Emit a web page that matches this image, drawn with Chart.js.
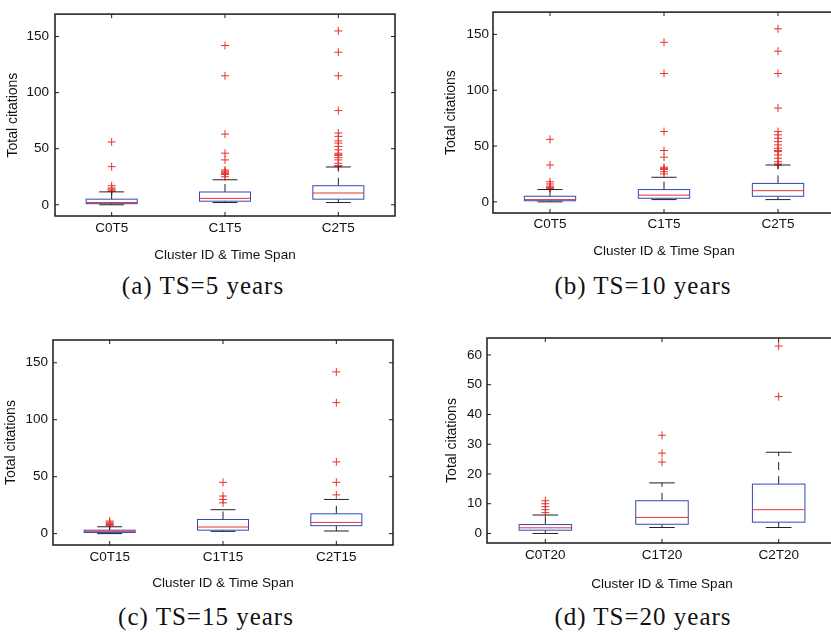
<!DOCTYPE html>
<html>
<head>
<meta charset="utf-8">
<script src="https://cdn.jsdelivr.net/npm/chart.js@4/dist/chart.umd.min.js"></script>
<style>
  html, body { margin: 0; padding: 0; background: #fff; overflow: hidden; width: 831px; height: 633px; }
  .panel { position: absolute; }
  .cap { position: absolute; font-family: "Liberation Serif", serif; font-size: 25px; letter-spacing: 1px;
         color: #111; white-space: nowrap; transform: translate(-50%, -50%); }
</style>
</head>
<body>
<div class="panel" style="left:0;top:0;width:420px;height:270px"><canvas id="ca"></canvas></div>
<div class="panel" style="left:430px;top:0;width:420px;height:270px"><canvas id="cb"></canvas></div>
<div class="panel" style="left:0;top:320px;width:420px;height:280px"><canvas id="cc"></canvas></div>
<div class="panel" style="left:430px;top:320px;width:420px;height:280px"><canvas id="cd"></canvas></div>
<div class="cap" style="left:203px;top:286px">(a) TS=5 years</div>
<div class="cap" style="left:643px;top:286px">(b) TS=10 years</div>
<div class="cap" style="left:206px;top:617px">(c) TS=15 years</div>
<div class="cap" style="left:643px;top:617px">(d) TS=20 years</div>
<script>
'use strict';

// ---- data ----
// (a) TS=5
const catsA = ['C0T5', 'C1T5', 'C2T5'];
const lowA  = [0, 2, 2];
const q1A   = [1, 3.2, 5];
const medA  = [2, 5.7, 10.5];
const q3A   = [5, 11.4, 17];
const highA = [11.5, 22.3, 33.7];
const outA  = [
  [12, 13, 14, 15, 17, 34, 56],
  [25, 27, 28, 29, 30, 31, 40, 46, 63, 115, 142],
  [34, 35, 37, 40, 42, 44, 45, 46, 49, 52, 55, 57, 61, 64, 84, 115, 136, 155]
];
// (b) TS=10
const catsB = ['C0T5', 'C1T5', 'C2T5'];
const lowB  = [0, 2, 2];
const q1B   = [1, 3.2, 5];
const medB  = [2, 6, 10];
const q3B   = [5, 11, 16.5];
const highB = [11, 22, 33];
const outB  = [
  [12, 13, 14, 16, 18, 33, 56],
  [25, 27, 29, 30, 31, 40, 46, 63, 115, 143],
  [33, 34, 36, 39, 42, 45, 46, 48, 51, 54, 57, 60, 63, 84, 115, 135, 155]
];
// (c) TS=15
const catsC = ['C0T15', 'C1T15', 'C2T15'];
const lowC  = [0, 2, 2.3];
const q1C   = [1, 3, 7];
const medC  = [2, 5.8, 9.8];
const q3C   = [3, 12.4, 17.4];
const highC = [6, 21, 30];
const outC  = [
  [7, 8, 9, 10, 11],
  [27, 30, 33, 45],
  [34, 45, 63, 115, 142]
];
// (d) TS=20
const catsD = ['C0T20', 'C1T20', 'C2T20'];
const lowD  = [0, 2, 2];
const q1D   = [1.1, 3.1, 3.8];
const medD  = [1.9, 5.4, 8];
const q3D   = [3, 11, 16.6];
const highD = [6.2, 17, 27.3];
const outD  = [
  [7, 8, 9, 10, 11],
  [24, 27, 33],
  [46, 63]
];

const ticksBig   = [0, 50, 100, 150];
const ticksSmall = [0, 10, 20, 30, 40, 50, 60];

const BLUE = '#3448b8', RED = '#e5352f', INK = '#222';
const BOX_W = 0.45, CAP_W = 0.22;

function seg(ctx, x1, y1, x2, y2) {
  ctx.beginPath(); ctx.moveTo(x1, y1); ctx.lineTo(x2, y2); ctx.stroke();
}

function boxPlugin(p) {
  return {
    id: 'boxes',
    afterDatasetsDraw(chart) {
      const { ctx } = chart;
      const x = chart.scales.x, y = chart.scales.y;
      ctx.save();
      ctx.lineWidth = 1;
      p.med.forEach((m, i) => {
        const c = x.getPixelForValue(i + 1);
        const half = x.getPixelForValue(i + 1 + BOX_W / 2) - c;
        const cap = x.getPixelForValue(i + 1 + CAP_W / 2) - c;
        const yLo = y.getPixelForValue(p.low[i]), yHi = y.getPixelForValue(p.high[i]);
        const y1 = y.getPixelForValue(p.q1[i]), y3 = y.getPixelForValue(p.q3[i]);
        const yM = y.getPixelForValue(m);
        ctx.strokeStyle = INK;
        ctx.setLineDash([8, 6]);
        seg(ctx, c, y3, c, yHi);
        seg(ctx, c, y1, c, yLo);
        ctx.setLineDash([]);
        seg(ctx, c - cap, yHi, c + cap, yHi);
        seg(ctx, c - cap, yLo, c + cap, yLo);
        ctx.strokeStyle = BLUE;
        ctx.strokeRect(c - half, y3, 2 * half, y1 - y3);
        ctx.strokeStyle = RED;
        seg(ctx, c - half, yM, c + half, yM);
      });
      ctx.restore();
    },
    afterDraw(chart) {
      const { ctx, chartArea: a } = chart;
      const x = chart.scales.x, y = chart.scales.y;
      ctx.save();
      ctx.strokeStyle = '#1a1a1a';
      ctx.lineWidth = 1.5;
      ctx.strokeRect(a.left, a.top, a.right - a.left, a.bottom - a.top);
      ctx.lineWidth = 1;
      y.ticks.forEach(t => {
        const py = y.getPixelForValue(t.value);
        seg(ctx, a.left, py, a.left + 4, py);
        seg(ctx, a.right, py, a.right - 4, py);
      });
      x.ticks.forEach(t => {
        const px = x.getPixelForValue(t.value);
        seg(ctx, px, a.bottom, px, a.bottom - 4);
        seg(ctx, px, a.top, px, a.top + 4);
      });
      ctx.restore();
    }
  };
}

function makeChart(id, p) {
  const pts = [];
  p.out.forEach((vals, i) => vals.forEach(v => pts.push({ x: i + 1, y: v })));
  return new Chart(document.getElementById(id), {
    type: 'scatter',
    data: {
      datasets: [{
        data: pts,
        pointStyle: 'cross',
        pointRadius: 4,
        borderColor: RED,
        borderWidth: 1,
        backgroundColor: RED
      }]
    },
    options: {
      responsive: true,
      maintainAspectRatio: false,
      animation: false,
      events: [],
      layout: { padding: { left: 0, top: p.pt, right: p.pr, bottom: 0 } },
      plugins: { legend: { display: false }, tooltip: { enabled: false } },
      scales: {
        x: {
          type: 'linear', min: 0.5, max: 3.5,
          afterBuildTicks: s => { s.ticks = p.cats.map((c, i) => ({ value: i + 1 })); },
          afterFit: s => { s.height = p.xh; },
          grid: { display: false, drawTicks: false },
          border: { display: false },
          ticks: {
            padding: p.xpad, color: '#111', maxRotation: 0,
            font: { family: 'Liberation Sans', size: 13.5 },
            callback: v => p.cats[v - 1]
          },
          title: {
            display: true, text: 'Cluster ID & Time Span', color: '#111',
            font: { family: 'Liberation Sans', size: 13.5 },
            padding: { top: 0, bottom: p.xtp }
          }
        },
        y: {
          type: 'linear', min: p.ymin, max: p.ymax,
          afterBuildTicks: s => { s.ticks = p.yticks.map(v => ({ value: v })); },
          afterFit: s => { s.width = p.yw; },
          grid: { display: false, drawTicks: false },
          border: { display: false },
          ticks: {
            padding: p.ypad, color: '#111',
            font: { family: 'Liberation Sans', size: 13.5 }
          },
          title: {
            display: true, text: 'Total citations', color: '#111',
            font: { family: 'Liberation Sans', size: 14 },
            padding: { top: p.ytp, bottom: 0 }
          }
        }
      }
    },
    plugins: [boxPlugin(p)]
  });
}

makeChart('ca', { cats: catsA, low: lowA, q1: q1A, med: medA, q3: q3A, high: highA, out: outA,
  ymin: -10, ymax: 170, yticks: ticksBig,
  pt: 8, pr: 25, yw: 55, xh: 54, xpad: 4, xtp: 7, ypad: 6, ytp: 5 });
makeChart('cb', { cats: catsB, low: lowB, q1: q1B, med: medB, q3: q3B, high: highB, out: outB,
  ymin: -10, ymax: 170, yticks: ticksBig,
  pt: 6, pr: 15, yw: 63, xh: 57, xpad: 3, xtp: 11, ypad: 4, ytp: 13 });
makeChart('cc', { cats: catsC, low: lowC, q1: q1C, med: medC, q3: q3C, high: highC, out: outC,
  ymin: -10, ymax: 170, yticks: ticksBig,
  pt: 20, pr: 27, yw: 53, xh: 55, xpad: 4, xtp: 9, ypad: 5, ytp: 3 });
makeChart('cd', { cats: catsD, low: lowD, q1: q1D, med: medD, q3: q3D, high: highD, out: outD,
  ymin: -3.2, ymax: 65.7, yticks: ticksSmall,
  pt: 18, pr: 13, yw: 57, xh: 57, xpad: 4.5, xtp: 8, ypad: 5, ytp: 13.5 });
</script>
</body>
</html>
